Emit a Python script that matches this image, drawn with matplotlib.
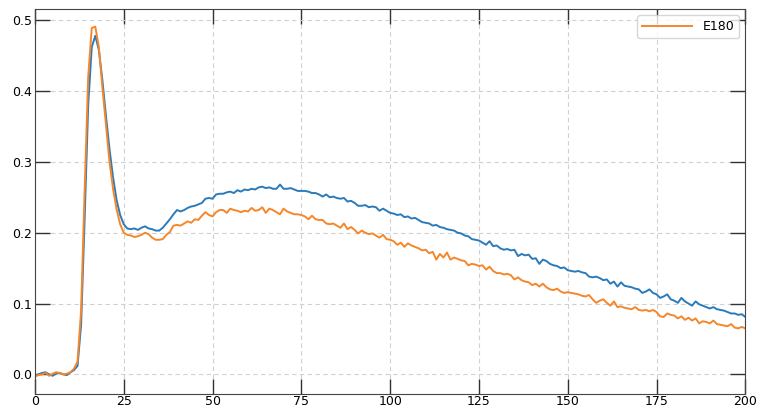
import numpy as np
import matplotlib.pyplot as plt

x = np.arange(0, 201)

# reference curve (no legend entry)
ref = [
    -0.002, 0.000, 0.002, 0.003, 0.000, -0.002, 0.001, 0.002, 0.000, -0.001,
    0.003, 0.006, 0.012, 0.070, 0.220, 0.380, 0.462, 0.478, 0.458, 0.415,
    0.365, 0.318, 0.278, 0.246, 0.225, 0.212, 0.206, 0.205, 0.206, 0.204,
    0.207, 0.209, 0.206, 0.205, 0.203, 0.203, 0.207, 0.213, 0.219, 0.226,
    0.232, 0.230, 0.232, 0.235, 0.237, 0.238, 0.240, 0.242, 0.248, 0.249,
    0.248, 0.254, 0.255, 0.255, 0.257, 0.258, 0.256, 0.260, 0.258, 0.261,
    0.260, 0.262, 0.261, 0.264, 0.265, 0.263, 0.264, 0.262, 0.262, 0.268,
    0.262, 0.262, 0.263, 0.261, 0.259, 0.259, 0.259, 0.258, 0.256, 0.256,
    0.254, 0.251, 0.254, 0.250, 0.251, 0.249, 0.248, 0.249, 0.244, 0.245,
    0.242, 0.238, 0.238, 0.239, 0.236, 0.237, 0.236, 0.231, 0.234, 0.231,
    0.228, 0.227, 0.225, 0.226, 0.222, 0.223, 0.220, 0.221, 0.218, 0.215,
    0.214, 0.213, 0.210, 0.211, 0.208, 0.207, 0.205, 0.204, 0.203, 0.200,
    0.199, 0.196, 0.195, 0.191, 0.190, 0.189, 0.186, 0.183, 0.188, 0.181,
    0.182, 0.178, 0.176, 0.177, 0.175, 0.176, 0.167, 0.170, 0.168, 0.169,
    0.163, 0.164, 0.156, 0.162, 0.160, 0.156, 0.154, 0.153, 0.150, 0.151,
    0.147, 0.146, 0.145, 0.146, 0.144, 0.143, 0.138, 0.137, 0.138, 0.136,
    0.133, 0.134, 0.128, 0.131, 0.124, 0.130, 0.125, 0.124, 0.123, 0.121,
    0.120, 0.115, 0.117, 0.120, 0.115, 0.113, 0.108, 0.110, 0.113, 0.106,
    0.104, 0.101, 0.108, 0.103, 0.100, 0.097, 0.103, 0.099, 0.097, 0.095,
    0.093, 0.095, 0.092, 0.091, 0.090, 0.088, 0.086, 0.086, 0.084, 0.085,
    0.081,
]

e180 = [
    -0.003, -0.001, 0.000, 0.002, -0.002, 0.001, 0.003, 0.002, 0.000, 0.001,
    0.003, 0.008, 0.018, 0.090, 0.260, 0.420, 0.489, 0.491, 0.462, 0.405,
    0.352, 0.300, 0.262, 0.233, 0.212, 0.200, 0.197, 0.196, 0.194, 0.195,
    0.197, 0.200, 0.198, 0.193, 0.190, 0.190, 0.191, 0.197, 0.201, 0.210,
    0.211, 0.210, 0.213, 0.216, 0.214, 0.219, 0.218, 0.224, 0.229, 0.225,
    0.223, 0.229, 0.232, 0.232, 0.228, 0.234, 0.232, 0.231, 0.229, 0.231,
    0.230, 0.235, 0.231, 0.232, 0.236, 0.228, 0.234, 0.232, 0.229, 0.226,
    0.234, 0.230, 0.228, 0.226, 0.226, 0.225, 0.223, 0.219, 0.224, 0.219,
    0.218, 0.218, 0.213, 0.212, 0.213, 0.210, 0.207, 0.213, 0.205, 0.208,
    0.204, 0.199, 0.203, 0.200, 0.198, 0.199, 0.196, 0.193, 0.197, 0.191,
    0.190, 0.188, 0.183, 0.186, 0.180, 0.185, 0.182, 0.180, 0.178, 0.175,
    0.176, 0.171, 0.173, 0.162, 0.170, 0.165, 0.172, 0.162, 0.165, 0.163,
    0.161, 0.160, 0.154, 0.156, 0.155, 0.153, 0.154, 0.148, 0.152, 0.146,
    0.143, 0.143, 0.141, 0.142, 0.140, 0.134, 0.137, 0.133, 0.131, 0.130,
    0.126, 0.128, 0.124, 0.128, 0.123, 0.120, 0.119, 0.121, 0.117, 0.115,
    0.116, 0.115, 0.114, 0.113, 0.111, 0.110, 0.112, 0.106, 0.101, 0.104,
    0.106, 0.101, 0.097, 0.103, 0.095, 0.096, 0.094, 0.093, 0.092, 0.095,
    0.091, 0.090, 0.091, 0.089, 0.091, 0.088, 0.082, 0.081, 0.086, 0.084,
    0.083, 0.079, 0.082, 0.077, 0.080, 0.076, 0.079, 0.072, 0.075, 0.074,
    0.072, 0.076, 0.071, 0.070, 0.069, 0.068, 0.071, 0.066, 0.065, 0.067,
    0.065,
]

fig, ax = plt.subplots(figsize=(7.59, 4.13), dpi=100)
fig.subplots_adjust(left=0.046, right=0.982, bottom=0.046, top=0.978)

ax.plot(x, ref, color='#2b7bba', linewidth=1.4)
ax.plot(x, e180, color='#f5872a', linewidth=1.4, label='E180')

ax.set_xlim(0, 200)
ax.set_xticks([0, 25, 50, 75, 100, 125, 150, 175, 200])
ax.set_yticks([0.0, 0.1, 0.2, 0.3, 0.4, 0.5])

ax.tick_params(direction='in', length=11, width=1, color='#333333',
               top=True, right=True, labelsize=9, pad=2)
ax.tick_params(axis='x', pad=1)
for s in ax.spines.values():
    s.set_color('#444444')

ax.grid(True, linestyle=(0, (4, 3)), color='#d0d0d0', linewidth=0.8)
ax.legend(loc='upper right', fontsize=9, handlelength=4.0)

plt.savefig('out.png', dpi=100)
